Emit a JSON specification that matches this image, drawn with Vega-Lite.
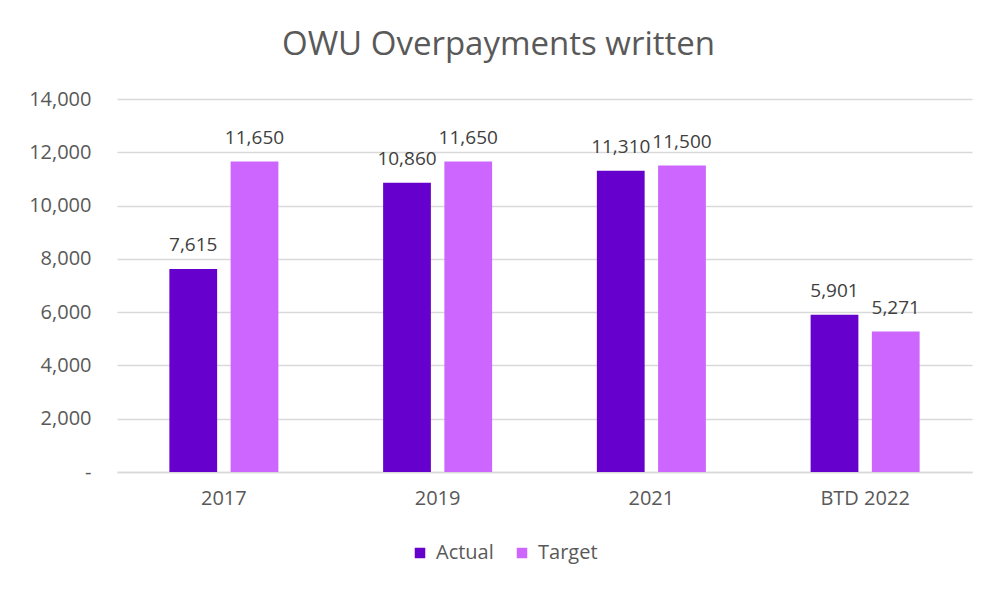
{
  "$schema": "https://vega.github.io/schema/vega-lite/v6.json",
  "autosize": "none",
  "width": 855,
  "height": 373,
  "padding": {"left": 117, "top": 99, "right": 26, "bottom": 122},
  "background": "white",
  "title": {
    "text": "OWU Overpayments written",
    "font": "Open Sans",
    "fontSize": 33,
    "fontWeight": "normal",
    "color": "#595959",
    "anchor": "middle",
    "dx": -46,
    "offset": 27
  },
  "data": {
    "values": [
      {"period": "2017", "series": "Actual", "value": 7615},
      {"period": "2017", "series": "Target", "value": 11650},
      {"period": "2019", "series": "Actual", "value": 10860},
      {"period": "2019", "series": "Target", "value": 11650},
      {"period": "2021", "series": "Actual", "value": 11310},
      {"period": "2021", "series": "Target", "value": 11500},
      {"period": "BTD 2022", "series": "Actual", "value": 5901},
      {"period": "BTD 2022", "series": "Target", "value": 5271}
    ]
  },
  "encoding": {
    "x": {
      "field": "period",
      "type": "nominal",
      "sort": null,
      "scale": {"paddingInner": 0.49, "paddingOuter": 0.245},
      "axis": {
        "title": null,
        "labelAngle": 0,
        "labelFont": "Open Sans",
        "labelFontSize": 20,
        "labelColor": "#595959",
        "labelPadding": 16,
        "ticks": false,
        "domainColor": "#D9D9D9",
        "domainWidth": 1.5
      }
    },
    "xOffset": {"field": "series", "type": "nominal", "scale": {"paddingInner": 0.22}},
    "y": {
      "field": "value",
      "type": "quantitative",
      "scale": {"domain": [0, 14000], "nice": false},
      "axis": {
        "title": null,
        "values": [0, 2000, 4000, 6000, 8000, 10000, 12000, 14000],
        "labelExpr": "datum.value == 0 ? '-\u00a0\u00a0\u00a0\u00a0' : format(datum.value, ',')",
        "labelFont": "Open Sans",
        "labelFontSize": 20,
        "labelColor": "#595959",
        "labelPadding": 26,
        "ticks": false,
        "domain": false,
        "gridColor": "#D9D9D9",
        "gridWidth": 1.5
      }
    }
  },
  "layer": [
    {
      "mark": {"type": "bar"},
      "encoding": {
        "color": {
          "field": "series",
          "type": "nominal",
          "scale": {"domain": ["Actual", "Target"], "range": ["#6600CC", "#CC66FF"]},
          "legend": {
            "title": null,
            "orient": "none",
            "direction": "horizontal",
            "legendX": 293,
            "legendY": 444,
            "symbolType": "square",
            "symbolSize": 110,
            "symbolStrokeWidth": 0,
            "labelFont": "Open Sans",
            "labelFontSize": 20,
            "labelColor": "#595959",
            "columnPadding": 18,
            "labelOffset": 6
          }
        }
      }
    },
    {
      "mark": {"type": "text", "baseline": "bottom", "dy": -14, "font": "Open Sans", "fontSize": 19, "color": "#404040"},
      "encoding": {
        "text": {"field": "value", "type": "quantitative", "format": ","}
      }
    }
  ],
  "config": {"view": {"stroke": null}}
}
